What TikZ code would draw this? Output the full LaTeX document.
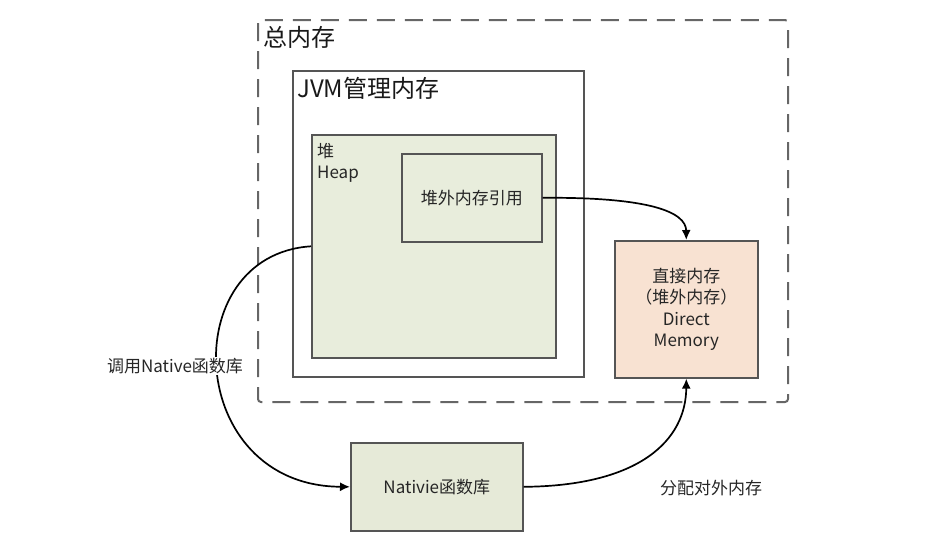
\documentclass[tikz,border=0pt]{standalone}
\usepackage{fontspec}
\setmainfont{Noto Sans CJK SC}
\usetikzlibrary{arrows.meta, positioning}
\definecolor{boxgray}{RGB}{85,85,85}
\definecolor{heapgreen}{RGB}{232,237,220}
\definecolor{nativegreen}{RGB}{230,234,216}
\definecolor{directpeach}{RGB}{248,226,210}

\begin{document}
\begin{tikzpicture}[x=1pt, y=-1pt,
    memframe/.style={draw=boxgray, line width=1.6pt},
    callarrow/.style={line width=1.7pt, -{Latex[length=10pt,width=9pt]}},
    lbl/.style={font=\fontsize{17}{21.5}\selectfont, text=black!85},
    title/.style={font=\fontsize{24}{28}\selectfont, text=black!90, inner sep=0pt, anchor=north west}]
  \useasboundingbox (0,0) rectangle (925,555);

  % total memory (dashed)
  \draw[draw=black!60, line width=2pt, dash pattern=on 18pt off 10pt, rounded corners=3pt]
    (258,20) rectangle (788,402);
  \node[title] (total) at (263,26) {总内存};

  % JVM managed memory
  \draw[memframe, fill=white] (293,71) rectangle (584,377);
  \node[title] (jvm) at (297,77) {JVM管理内存};

  % heap
  \node[memframe, fill=heapgreen, minimum width=244pt, minimum height=223pt, anchor=north west]
    (heap) at (311,134) {};
  \node[lbl, anchor=north west, align=left, inner sep=0pt] (heaplbl) at (317,143) {堆\\Heap};
  \node[memframe, fill=heapgreen, minimum width=140pt, minimum height=88pt, anchor=north west, lbl]
    (ref) at (401,153) {堆外内存引用};

  % direct memory
  \node[memframe, fill=directpeach, minimum width=143pt, minimum height=137pt, anchor=north west,
    lbl, align=center] (direct) at (614,240)
    {直接内存\\（堆外内存）\\Direct\\Memory};

  % native library
  \node[memframe, fill=nativegreen, minimum width=172pt, minimum height=88pt, anchor=north west, lbl]
    (native) at (350,442) {Nativie函数库};

  % connectors
  \draw[callarrow] (ref.east) .. controls (650,197) and (686,212) .. (direct.north);
  \draw[callarrow] (heap.west) .. controls (175,255) and (185,486) .. (native.west);
  \draw[callarrow] (native.east) .. controls (640,486) and (686,440) .. (direct.south);

  \node[lbl, fill=white, inner sep=1pt] (calllbl) at (175,366) {调用Native函数库};
  \node[lbl] (alloclbl) at (711,488) {分配对外内存};
\end{tikzpicture}
\end{document}
